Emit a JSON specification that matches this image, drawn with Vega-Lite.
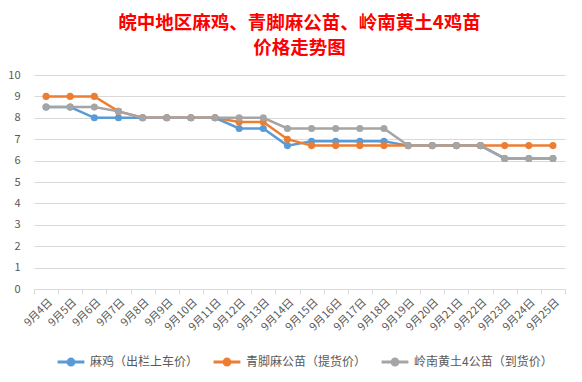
{
  "$schema": "https://vega.github.io/schema/vega-lite/v6.json",
  "autosize": "none",
  "width": 531,
  "height": 214,
  "padding": {"left": 34, "top": 75, "right": 17, "bottom": 93},
  "background": "white",
  "title": {
    "text": ["皖中地区麻鸡、青脚麻公苗、岭南黄土4鸡苗", "价格走势图"],
    "color": "#FF0000",
    "font": "Noto Sans CJK SC",
    "fontSize": 18.5,
    "fontWeight": "bold",
    "anchor": "middle",
    "lineHeight": 25,
    "offset": 12
  },
  "config": {
    "view": {"stroke": null},
    "font": "Noto Sans CJK SC"
  },
  "data": {
    "values": [
      {"date": "9月4日", "s": "麻鸡（出栏上车价）", "v": 8.5},
      {"date": "9月5日", "s": "麻鸡（出栏上车价）", "v": 8.5},
      {"date": "9月6日", "s": "麻鸡（出栏上车价）", "v": 8.0},
      {"date": "9月7日", "s": "麻鸡（出栏上车价）", "v": 8.0},
      {"date": "9月8日", "s": "麻鸡（出栏上车价）", "v": 8.0},
      {"date": "9月9日", "s": "麻鸡（出栏上车价）", "v": 8.0},
      {"date": "9月10日", "s": "麻鸡（出栏上车价）", "v": 8.0},
      {"date": "9月11日", "s": "麻鸡（出栏上车价）", "v": 8.0},
      {"date": "9月12日", "s": "麻鸡（出栏上车价）", "v": 7.5},
      {"date": "9月13日", "s": "麻鸡（出栏上车价）", "v": 7.5},
      {"date": "9月14日", "s": "麻鸡（出栏上车价）", "v": 6.7},
      {"date": "9月15日", "s": "麻鸡（出栏上车价）", "v": 6.9},
      {"date": "9月16日", "s": "麻鸡（出栏上车价）", "v": 6.9},
      {"date": "9月17日", "s": "麻鸡（出栏上车价）", "v": 6.9},
      {"date": "9月18日", "s": "麻鸡（出栏上车价）", "v": 6.9},
      {"date": "9月19日", "s": "麻鸡（出栏上车价）", "v": 6.7},
      {"date": "9月20日", "s": "麻鸡（出栏上车价）", "v": 6.7},
      {"date": "9月21日", "s": "麻鸡（出栏上车价）", "v": 6.7},
      {"date": "9月22日", "s": "麻鸡（出栏上车价）", "v": 6.7},
      {"date": "9月23日", "s": "麻鸡（出栏上车价）", "v": 6.1},
      {"date": "9月24日", "s": "麻鸡（出栏上车价）", "v": 6.1},
      {"date": "9月25日", "s": "麻鸡（出栏上车价）", "v": 6.1},
      {"date": "9月4日", "s": "青脚麻公苗（提货价）", "v": 9.0},
      {"date": "9月5日", "s": "青脚麻公苗（提货价）", "v": 9.0},
      {"date": "9月6日", "s": "青脚麻公苗（提货价）", "v": 9.0},
      {"date": "9月7日", "s": "青脚麻公苗（提货价）", "v": 8.3},
      {"date": "9月8日", "s": "青脚麻公苗（提货价）", "v": 8.0},
      {"date": "9月9日", "s": "青脚麻公苗（提货价）", "v": 8.0},
      {"date": "9月10日", "s": "青脚麻公苗（提货价）", "v": 8.0},
      {"date": "9月11日", "s": "青脚麻公苗（提货价）", "v": 8.0},
      {"date": "9月12日", "s": "青脚麻公苗（提货价）", "v": 7.8},
      {"date": "9月13日", "s": "青脚麻公苗（提货价）", "v": 7.8},
      {"date": "9月14日", "s": "青脚麻公苗（提货价）", "v": 7.0},
      {"date": "9月15日", "s": "青脚麻公苗（提货价）", "v": 6.7},
      {"date": "9月16日", "s": "青脚麻公苗（提货价）", "v": 6.7},
      {"date": "9月17日", "s": "青脚麻公苗（提货价）", "v": 6.7},
      {"date": "9月18日", "s": "青脚麻公苗（提货价）", "v": 6.7},
      {"date": "9月19日", "s": "青脚麻公苗（提货价）", "v": 6.7},
      {"date": "9月20日", "s": "青脚麻公苗（提货价）", "v": 6.7},
      {"date": "9月21日", "s": "青脚麻公苗（提货价）", "v": 6.7},
      {"date": "9月22日", "s": "青脚麻公苗（提货价）", "v": 6.7},
      {"date": "9月23日", "s": "青脚麻公苗（提货价）", "v": 6.7},
      {"date": "9月24日", "s": "青脚麻公苗（提货价）", "v": 6.7},
      {"date": "9月25日", "s": "青脚麻公苗（提货价）", "v": 6.7},
      {"date": "9月4日", "s": "岭南黄土4公苗（到货价）", "v": 8.5},
      {"date": "9月5日", "s": "岭南黄土4公苗（到货价）", "v": 8.5},
      {"date": "9月6日", "s": "岭南黄土4公苗（到货价）", "v": 8.5},
      {"date": "9月7日", "s": "岭南黄土4公苗（到货价）", "v": 8.3},
      {"date": "9月8日", "s": "岭南黄土4公苗（到货价）", "v": 8.0},
      {"date": "9月9日", "s": "岭南黄土4公苗（到货价）", "v": 8.0},
      {"date": "9月10日", "s": "岭南黄土4公苗（到货价）", "v": 8.0},
      {"date": "9月11日", "s": "岭南黄土4公苗（到货价）", "v": 8.0},
      {"date": "9月12日", "s": "岭南黄土4公苗（到货价）", "v": 8.0},
      {"date": "9月13日", "s": "岭南黄土4公苗（到货价）", "v": 8.0},
      {"date": "9月14日", "s": "岭南黄土4公苗（到货价）", "v": 7.5},
      {"date": "9月15日", "s": "岭南黄土4公苗（到货价）", "v": 7.5},
      {"date": "9月16日", "s": "岭南黄土4公苗（到货价）", "v": 7.5},
      {"date": "9月17日", "s": "岭南黄土4公苗（到货价）", "v": 7.5},
      {"date": "9月18日", "s": "岭南黄土4公苗（到货价）", "v": 7.5},
      {"date": "9月19日", "s": "岭南黄土4公苗（到货价）", "v": 6.7},
      {"date": "9月20日", "s": "岭南黄土4公苗（到货价）", "v": 6.7},
      {"date": "9月21日", "s": "岭南黄土4公苗（到货价）", "v": 6.7},
      {"date": "9月22日", "s": "岭南黄土4公苗（到货价）", "v": 6.7},
      {"date": "9月23日", "s": "岭南黄土4公苗（到货价）", "v": 6.1},
      {"date": "9月24日", "s": "岭南黄土4公苗（到货价）", "v": 6.1},
      {"date": "9月25日", "s": "岭南黄土4公苗（到货价）", "v": 6.1}
    ]
  },
  "mark": {"type": "line", "strokeWidth": 2.5, "point": {"size": 50, "filled": true}},
  "encoding": {
    "x": {
      "field": "date",
      "type": "ordinal",
      "sort": null,
      "bandPosition": 0.5,
      "scale": {"type": "band", "paddingInner": 0, "paddingOuter": 0},
      "axis": {
        "title": null,
        "labelAngle": -45,
        "labelFontSize": 11,
        "labelColor": "#595959",
        "labelFont": "Noto Sans CJK SC",
        "domainColor": "#D9D9D9",
        "tickColor": "#D9D9D9",
        "tickSize": 5,
        "tickBand": "extent",
        "grid": false,
        "labelPadding": 2
      }
    },
    "y": {
      "field": "v",
      "type": "quantitative",
      "scale": {"domain": [0, 10]},
      "axis": {
        "title": null,
        "values": [0, 1, 2, 3, 4, 5, 6, 7, 8, 9, 10],
        "domain": false,
        "ticks": false,
        "labelFontSize": 11,
        "labelColor": "#595959",
        "labelPadding": 14,
        "gridColor": "#D9D9D9",
        "gridWidth": 1
      }
    },
    "color": {
      "field": "s",
      "type": "nominal",
      "sort": null,
      "scale": {
        "domain": ["麻鸡（出栏上车价）", "青脚麻公苗（提货价）", "岭南黄土4公苗（到货价）"],
        "range": ["#5B9BD5", "#ED7D31", "#A5A5A5"]
      },
      "legend": {
        "title": null,
        "orient": "none",
        "direction": "horizontal",
        "legendX": 22,
        "legendY": 272,
        "labelFontSize": 12,
        "labelColor": "#595959",
        "symbolType": "M-1,0H1M0.22,0A0.22,0.22,0,1,1,-0.22,0A0.22,0.22,0,1,1,0.22,0",
        "symbolSize": 720,
        "symbolStrokeWidth": 3,
        "columnPadding": 8,
        "labelOffset": 4
      }
    }
  }
}
